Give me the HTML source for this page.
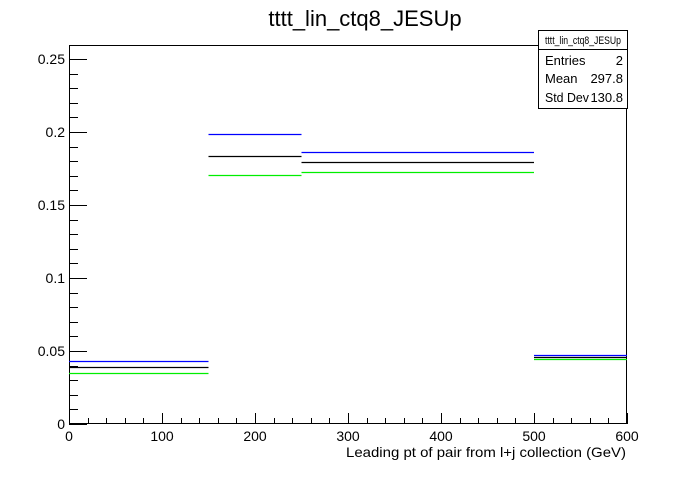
<!DOCTYPE html>
<html><head><meta charset="utf-8"><style>
body{margin:0;background:#fff;font-family:"Liberation Sans",sans-serif}
svg text{font-family:"Liberation Sans",sans-serif}
</style></head><body>
<svg id="c" width="696" height="472" xmlns="http://www.w3.org/2000/svg">
<rect width="696" height="472" fill="#fff"/>
<text x="365" y="26" font-size="22" text-anchor="middle">tttt_lin_ctq8_JESUp</text>
<g id="axes"></g>
<g id="marks"></g>
<g>
<rect x="538.5" y="30.5" width="89" height="78" fill="#fff" stroke="#000"/>
<line x1="538" y1="49.5" x2="627" y2="49.5" stroke="#000"/>
<text x="545" y="44" font-size="11" textLength="76" lengthAdjust="spacingAndGlyphs">tttt_lin_ctq8_JESUp</text>
<text x="545" y="65" font-size="13">Entries</text><text x="623" y="65" font-size="13" text-anchor="end">2</text>
<text x="545" y="83" font-size="13">Mean</text><text x="623" y="83" font-size="13" text-anchor="end">297.8</text>
<text x="545" y="102" font-size="13" textLength="44" lengthAdjust="spacingAndGlyphs">Std Dev</text><text x="623" y="102" font-size="13" text-anchor="end">130.8</text>
</g>
<text x="346" y="457" font-size="14" textLength="280" lengthAdjust="spacingAndGlyphs">Leading pt of pair from l+j collection (GeV)</text>
</svg>
<script>
const binEdges=[0,150,250,500,600];
const blueVals=[0.0432,0.1986,0.1863,0.0473];
const blackVals=[0.0390,0.1836,0.1795,0.0460];
const greenVals=[0.0349,0.1705,0.1726,0.0447];
const xTicks=[0,100,200,300,400,500,600];
const yTicks=[0,0.05,0.1,0.15,0.2,0.25];
const yTickLabels=["0","0.05","0.1","0.15","0.2","0.25"];
const L=69,R=627,T=45,B=424,XMAX=600,YMAX=0.2596;
const sx=v=>L+(R-L)*v/XMAX, sy=v=>B-(B-T)*v/YMAX;
const NS="http://www.w3.org/2000/svg";
const axes=document.getElementById('axes'),marks=document.getElementById('marks');
function mk(p,tag,a){const e=document.createElementNS(NS,tag);for(const k in a)e.setAttribute(k,a[k]);p.appendChild(e);return e;}
const fr=mk(axes,'rect',{x:L+.5,y:T+.5,width:R-L-1,height:B-T-1,fill:'none',stroke:'#000'});


for(let v=0;v<=XMAX+1e-9;v+=20){const maj=Math.abs(v%100)<1e-6;const x=Math.round(sx(v))+.5;
 mk(axes,'line',{x1:x,x2:x,y1:B,y2:B-(maj?11:6),stroke:'#000'});}
xTicks.forEach(v=>{const t=mk(axes,'text',{x:sx(v),y:B+17,'font-size':14,'text-anchor':'middle'});t.textContent=v;
 
 });
for(let i=0;i*0.01<=YMAX;i++){const v=i*0.01;const maj=i%5==0;const y=Math.round(sy(v))+.5;
 mk(axes,'line',{x1:L,x2:L+(maj?18:9),y1:y,y2:y,stroke:'#000'});}
yTicks.forEach((v,i)=>{const t=mk(axes,'text',{x:L-4,y:sy(v)+5,'font-size':14,'text-anchor':'end'});t.textContent=yTickLabels[i];
 
 });
[[greenVals,'#00ee00','green'],[blackVals,'#000','black'],[blueVals,'#0000ff','blue']].forEach(([vals,col,nm])=>{
 vals.forEach((v,i)=>{const y=Math.round(sy(v))+.5;
  const l=mk(marks,'line',{x1:sx(binEdges[i]),x2:sx(binEdges[i+1]),y1:y,y2:y,stroke:col,'stroke-width':1.3});
  
  });});
</script>
</body></html>
